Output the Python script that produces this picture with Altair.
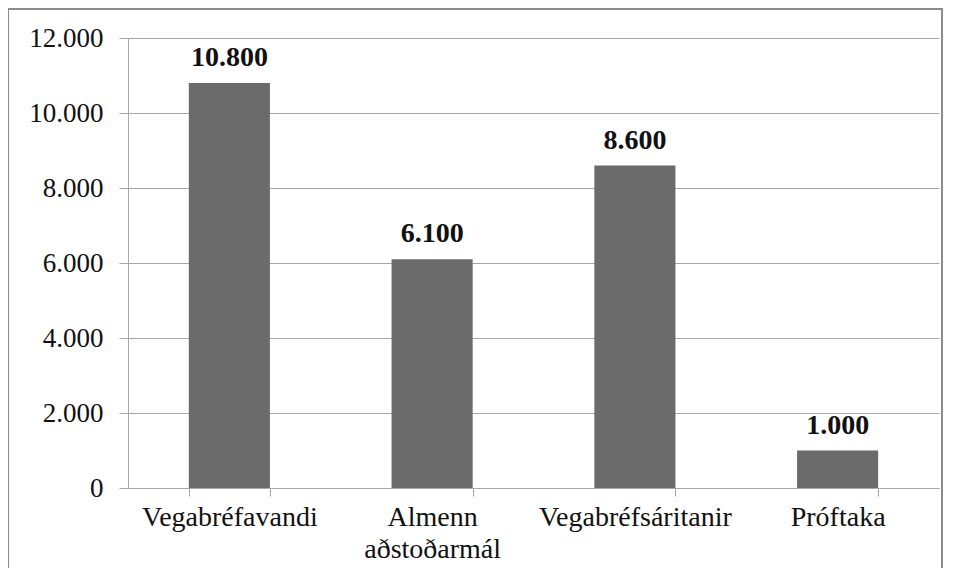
import altair as alt
import pandas as pd

categories = ["Vegabréfavandi", "Almenn aðstoðarmál", "Vegabréfsáritanir", "Próftaka"]
values = [10800, 6100, 8600, 1000]
y_ticks = [0, 2000, 4000, 6000, 8000, 10000, 12000]

df = pd.DataFrame({"cat": categories, "val": values})

W, H = 811, 450
FONT = "'Liberation Serif', 'Times New Roman', Times, serif"

x = alt.X("cat:N", sort=categories, title=None,
          scale=alt.Scale(paddingInner=0.6, paddingOuter=0.3),
          axis=alt.Axis(labelAngle=0, labelFontSize=28, labelColor="#111111", labelFont=FONT,
                        labelPadding=7, labelLimit=0, tickBand="extent", tickSize=8,
                        domainColor="#a6a6a6", tickColor="#a6a6a6",
                        labelExpr="datum.label == 'Almenn aðstoðarmál' ? ['Almenn', 'aðstoðarmál'] : datum.label",
                        labelLineHeight=32))
y = alt.Y("val:Q", title=None,
          scale=alt.Scale(domain=[0, 12000]),
          axis=alt.Axis(values=y_ticks, format=",.0f", labelFont=FONT,
                        labelFontSize=27, labelColor="#111111", labelPadding=16,
                        tickSize=9, domainColor="#a6a6a6", tickColor="#a6a6a6",
                        gridColor="#a6a6a6", gridWidth=1))

base = alt.Chart(df).encode(x=x, y=y)
bars = base.mark_bar(color="#6b6b6b")
labels = base.mark_text(font=FONT, fontSize=28, fontWeight="bold", baseline="alphabetic",
                        color="#111111", dy=-17).encode(text=alt.Text("val:Q", format=",.0f"))

frame = alt.Chart(df).mark_rect(fill=None, stroke="#8c8c8c", strokeWidth=2, clip=False).encode(
    x=alt.value(-120), x2=alt.value(W + 3), y=alt.value(-29), y2=alt.value(H + 120))

chart = alt.layer(frame, bars, labels).properties(
    width=W, height=H, autosize=alt.AutoSizeParams(type="none"),
    padding={"left": 120, "top": 30, "right": 9, "bottom": 80}
).configure(
    font=FONT,
    locale={"number": {"decimal": ",", "thousands": ".", "grouping": [3], "currency": ["", ""]}}
).configure_view(stroke=None)

chart.save("out.html", embed_options={"renderer": "svg", "actions": False})
